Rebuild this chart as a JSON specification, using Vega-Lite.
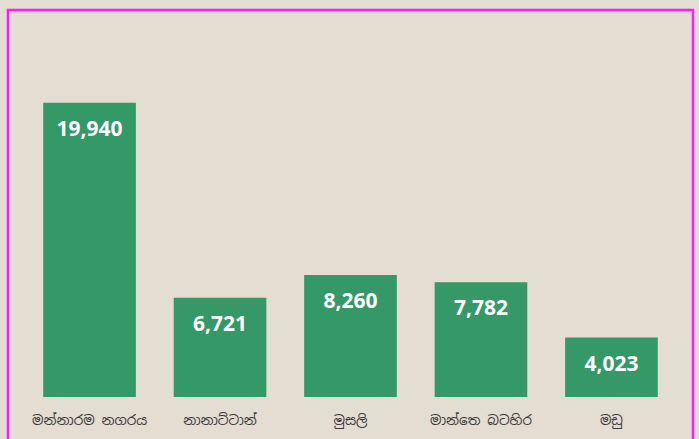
{
  "$schema": "https://vega.github.io/schema/vega-lite/v6.json",
  "autosize": {"type": "none"},
  "width": 685,
  "height": 432,
  "padding": {"left": 8, "top": 10, "right": 6, "bottom": 0},
  "background": "#e4ddd1",
  "config": {
    "view": {"stroke": "#ff1aff", "strokeWidth": 2.5, "fill": "#e4ddd1"},
    "font": "Open Sans"
  },
  "data": {
    "values": [
      {"area": "මන්නාරම නගරය", "value": 19940},
      {"area": "නානාට්ටාන්", "value": 6721},
      {"area": "මුසලි", "value": 8260},
      {"area": "මාන්තෙ බටහිර", "value": 7782},
      {"area": "මඩු", "value": 4023}
    ]
  },
  "encoding": {
    "x": {
      "field": "area",
      "type": "nominal",
      "sort": null,
      "scale": {"paddingInner": 0.29, "paddingOuter": 0.27},
      "axis": {
        "title": null,
        "labelAngle": 0,
        "domain": false,
        "ticks": false,
        "offset": -45,
        "labelPadding": 16,
        "labelFontSize": 13.5,
        "labelColor": "#3a3a3a",
        "labelFont": "Noto Sans Sinhala, Noto Sans, DejaVu Sans"
      }
    },
    "y": {
      "field": "value",
      "type": "quantitative",
      "scale": {"domain": [-3049, 26221], "nice": false, "zero": false},
      "axis": null
    }
  },
  "layer": [
    {"mark": {"type": "bar", "color": "#349966"}},
    {
      "mark": {
        "type": "text",
        "color": "white",
        "fontWeight": "bold",
        "fontSize": 21,
        "baseline": "middle",
        "dy": 27,
        "font": "Open Sans"
      },
      "encoding": {"text": {"field": "value", "type": "quantitative", "format": ","}}
    }
  ]
}
